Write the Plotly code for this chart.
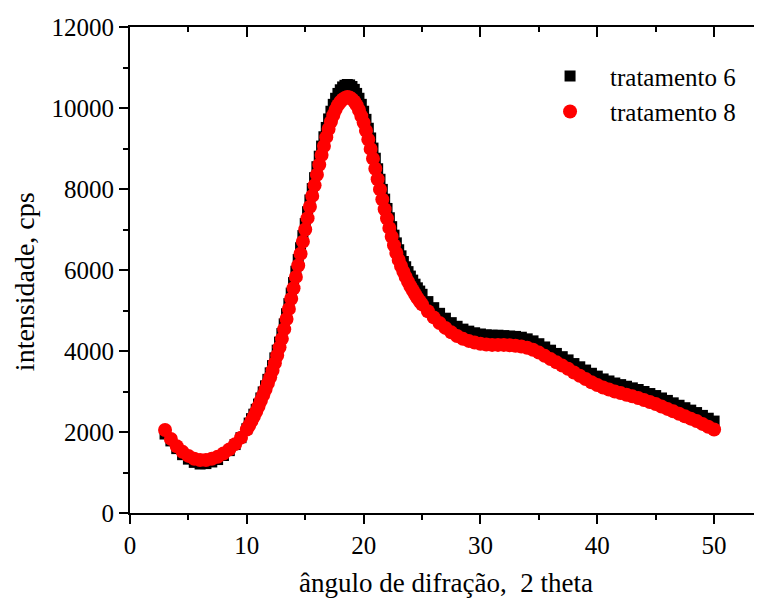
import numpy as np
import plotly.graph_objects as go

# 2-theta sampling grid (denser across the steep main peak)
x_a = [3.0, 3.5, 4.0, 4.5, 5.0, 5.5, 6.0, 6.5, 7.0, 7.5, 8.0, 8.5, 9.0, 9.5, 10.0]
x_b = [round(v, 1) for v in np.arange(10.2, 25.01, 0.2)]
x_c = [round(v, 1) for v in np.arange(25.5, 50.01, 0.5)]
theta = x_a + x_b + x_c

# tratamento 8 (red circles)
trat8_a = [2050, 1830, 1650, 1510, 1410, 1340, 1310, 1310, 1340, 1390, 1470, 1570, 1700, 1860, 2060]
trat8_b = [2160, 2270, 2380, 2500, 2630, 2770, 2910, 3050, 3200, 3350,
           3520, 3700, 3890, 4090, 4300, 4540, 4790, 5040, 5290, 5550,
           5830, 6110, 6400, 6700, 7000, 7280, 7560, 7830, 8090, 8350,
           8600, 8840, 9060, 9280, 9480, 9660, 9820, 9960, 10070, 10150,
           10210, 10250, 10270, 10260, 10220, 10160, 10070, 9950, 9800, 9640,
           9440, 9220, 8990, 8750, 8500, 8240, 7990, 7740, 7500, 7270,
           7040, 6820, 6610, 6420, 6250, 6100, 5960, 5830, 5710, 5600,
           5500, 5400, 5310, 5230, 5150]
trat8_c = [4980, 4830, 4690, 4570, 4460, 4370, 4300, 4250, 4210, 4180,
           4160, 4150, 4150, 4150, 4140, 4130, 4110, 4080, 4030, 3960,
           3880, 3800, 3720, 3640, 3560, 3470, 3390, 3310, 3230, 3160,
           3100, 3050, 3000, 2960, 2920, 2880, 2840, 2790, 2740, 2690,
           2630, 2570, 2510, 2450, 2390, 2330, 2270, 2200, 2130, 2060]
trat8 = trat8_a + trat8_b + trat8_c

# tratamento 6 (black squares)
trat6_a = [1950, 1780, 1590, 1440, 1330, 1250, 1210, 1220, 1260, 1320, 1420, 1540, 1690, 1860, 2080]
trat6_b = [2220, 2330, 2440, 2560, 2690, 2840, 2990, 3140, 3300, 3460,
           3640, 3830, 4020, 4220, 4430, 4670, 4920, 5170, 5430, 5690,
           5970, 6260, 6550, 6850, 7150, 7440, 7730, 8010, 8280, 8550,
           8810, 9060, 9290, 9520, 9730, 9920, 10090, 10240, 10360, 10450,
           10520, 10560, 10580, 10570, 10530, 10460, 10360, 10240, 10090, 9920,
           9720, 9500, 9260, 9010, 8760, 8500, 8240, 7990, 7750, 7520,
           7290, 7070, 6860, 6670, 6500, 6350, 6210, 6080, 5960, 5850,
           5750, 5650, 5560, 5480, 5400]
trat6_c = [5220, 5070, 4930, 4810, 4700, 4610, 4540, 4490, 4450, 4420,
           4400, 4390, 4390, 4380, 4370, 4360, 4340, 4300, 4250, 4180,
           4100, 4020, 3940, 3860, 3780, 3690, 3610, 3530, 3450, 3380,
           3310, 3260, 3210, 3170, 3130, 3090, 3050, 3000, 2950, 2900,
           2840, 2780, 2720, 2660, 2600, 2540, 2480, 2410, 2340, 2270]
trat6 = trat6_a + trat6_b + trat6_c

x_ticks = [0, 10, 20, 30, 40, 50]
y_ticks = [0, 2000, 4000, 6000, 8000, 10000, 12000]

FONT = "Liberation Serif, Times New Roman, serif"

fig = go.Figure()
fig.add_trace(go.Scatter(x=theta, y=trat6, mode="markers", name="tratamento 6",
                         marker=dict(symbol="square", size=11, color="black", line=dict(width=0))))
fig.add_trace(go.Scatter(x=theta, y=trat8, mode="markers", name="tratamento 8",
                         marker=dict(symbol="circle", size=14, color="#ff0000", line=dict(width=0))))
# carrier for the top (mirrored) axis
fig.add_trace(go.Scatter(x=[None], y=[None], xaxis="x2", showlegend=False, hoverinfo="skip"))

axis_common = dict(showline=True, linecolor="black", linewidth=2, showgrid=False, zeroline=False,
                   ticks="outside", ticklen=9, tickwidth=2, tickcolor="black",
                   tickfont=dict(family=FONT, size=25, color="black"))

fig.update_layout(
    width=754, height=590,
    margin=dict(l=122, r=0, t=19, b=85),
    paper_bgcolor="white", plot_bgcolor="white",
    font=dict(family=FONT, size=25, color="black"),
    xaxis=dict(range=[0, 54.1], tickvals=x_ticks, ticktext=[str(v) for v in x_ticks],
               minor=dict(dtick=5, tick0=0, ticks="outside", ticklen=5, tickwidth=2, tickcolor="black"),
               title=dict(text="ângulo de difração,\u00a0\u00a02 theta", font=dict(family=FONT, size=27), standoff=18),
               **axis_common),
    xaxis2=dict(overlaying="x", side="top", matches="x", range=[0, 54.1], showline=True,
                linecolor="black", linewidth=2, showgrid=False, zeroline=False,
                ticks="inside", ticklen=10, tickwidth=2, tickcolor="black",
                tickvals=x_ticks, showticklabels=False,
                minor=dict(dtick=5, tick0=0, ticks="inside", ticklen=5, tickwidth=2, tickcolor="black")),
    yaxis=dict(range=[0, 12000], tickvals=y_ticks, ticktext=[str(v) for v in y_ticks],
               minor=dict(dtick=1000, tick0=0, ticks="outside", ticklen=5, tickwidth=2, tickcolor="black"),
               **axis_common),
    annotations=[dict(text="intensidade, cps", textangle=-90, xref="paper", yref="paper",
                      x=0, y=0.475, xanchor="center", yanchor="middle", xshift=-106,
                      showarrow=False, font=dict(family=FONT, size=28, color="black"))],
    legend=dict(x=0.633, y=0.946, xanchor="left", yanchor="top", bgcolor="rgba(0,0,0,0)",
                font=dict(family=FONT, size=25, color="black"), itemwidth=70, tracegroupgap=0),
    showlegend=True,
)

fig.write_html("out.html")
